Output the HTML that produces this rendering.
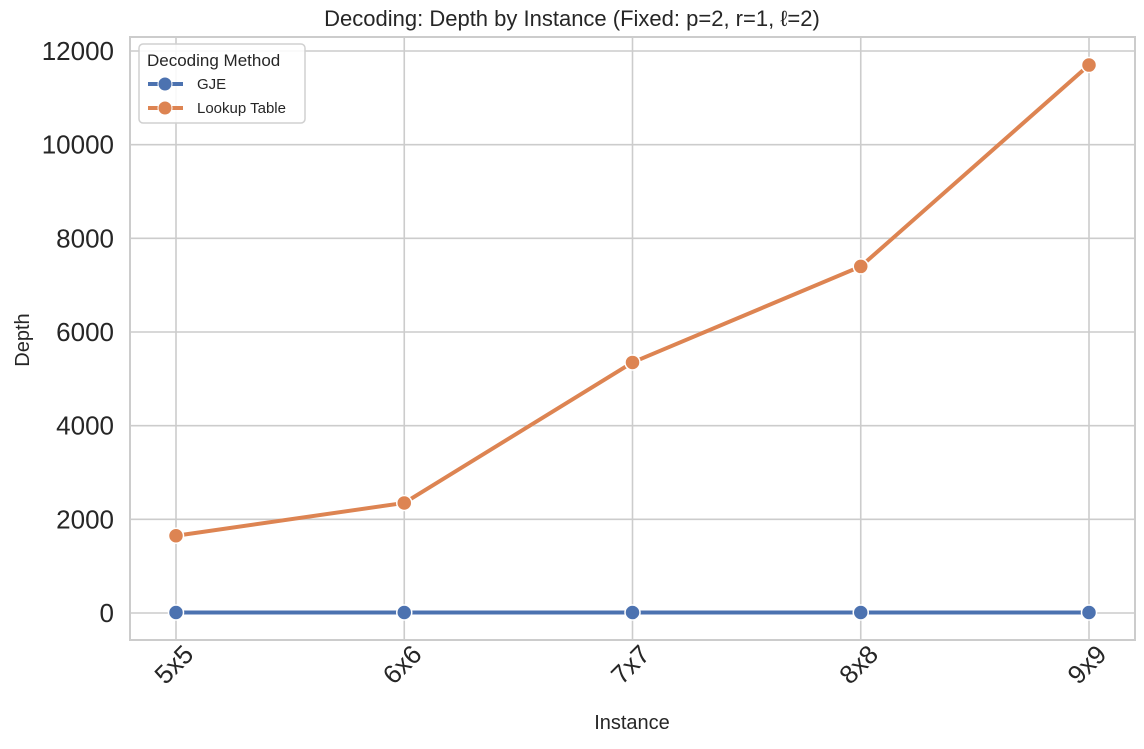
<!DOCTYPE html>
<html><head><meta charset="utf-8"><style>
body{margin:0;background:#fff;font-family:"Liberation Sans",sans-serif}
</style></head><body>
<svg id="c" width="1144" height="744" xmlns="http://www.w3.org/2000/svg" font-family="Liberation Sans, sans-serif"></svg>
<script>
const categories=["5x5","6x6","7x7","8x8","9x9"];
const gjeValues=[10,10,10,10,10];
const lookupValues=[1650,2350,5350,7400,11700];
const yTicks=[0,2000,4000,6000,8000,10000,12000];
const NS="http://www.w3.org/2000/svg";
const svg=document.getElementById('c');
const L=130,R=1135,T=37,B=640;
const x=i=>176+i*(1089-176)/(categories.length-1);
const y=v=>613-v*(613-51)/12000;
function mk(t,a,p){const e=document.createElementNS(NS,t);for(const k in a)e.setAttribute(k,a[k]);(p||svg).appendChild(e);return e;}
let g=mk('g',{});


yTicks.forEach(v=>{mk('line',{x1:L,x2:R,y1:y(v),y2:y(v),stroke:'#cccccc','stroke-width':1.6},g);
const t=mk('text',{x:L-16,y:y(v)+9,'text-anchor':'end','font-size':26,fill:'#262626'});t.textContent=v;

});
categories.forEach((c,i)=>{mk('line',{x1:x(i),x2:x(i),y1:T,y2:B,stroke:'#cccccc','stroke-width':1.6},g);
const ax=x(i)+19,ay=B+16;
const t=mk('text',{x:ax,y:ay,'text-anchor':'end','font-size':26,fill:'#262626',transform:`rotate(-45 ${ax} ${ay})`});t.textContent=c;

});
const fr=mk('rect',{x:L,y:T,width:R-L,height:B-T,fill:'none',stroke:'#cccccc','stroke-width':2});


function series(vals,col,name){const sg=mk('g',{});


mk('polyline',{points:vals.map((v,i)=>x(i)+','+y(v)).join(' '),fill:'none',stroke:col,'stroke-width':4,'stroke-linejoin':'round'},sg);
vals.forEach((v,i)=>{const p=mk('circle',{cx:x(i),cy:y(v),r:7.5,fill:col,stroke:'#fff','stroke-width':1.5},sg);

});}
series(gjeValues,'#4c72b0','gje-series');
series(lookupValues,'#dd8452','lookup-table-series');
</script>
<svg width="1144" height="744" style="position:absolute;left:0;top:0" font-family="Liberation Sans, sans-serif">
<text x="572" y="26" text-anchor="middle" font-size="22" fill="#262626">Decoding: Depth by Instance (Fixed: p=2, r=1, ℓ=2)</text>
<text x="29" y="340" text-anchor="middle" font-size="20" fill="#262626" transform="rotate(-90 29 340)">Depth</text>
<text x="632" y="729" text-anchor="middle" font-size="20" fill="#262626">Instance</text>
<g>
<rect x="139" y="44" width="166" height="79" rx="4" fill="#fff" fill-opacity="0.85" stroke="#d0d0d0" stroke-width="1.5"/>
<text x="147" y="66" font-size="17" fill="#262626">Decoding Method</text>
<g><line x1="148" x2="183" y1="84" y2="84" stroke="#4c72b0" stroke-width="4"/><circle cx="165" cy="84" r="7" fill="#4c72b0" stroke="#fff"/><text x="197" y="89" font-size="15" fill="#262626">GJE</text></g>
<g><line x1="148" x2="183" y1="108" y2="108" stroke="#dd8452" stroke-width="4"/><circle cx="165" cy="108" r="7" fill="#dd8452" stroke="#fff"/><text x="197" y="113" font-size="15" fill="#262626">Lookup Table</text></g>
</g>
</svg>
</body></html>
